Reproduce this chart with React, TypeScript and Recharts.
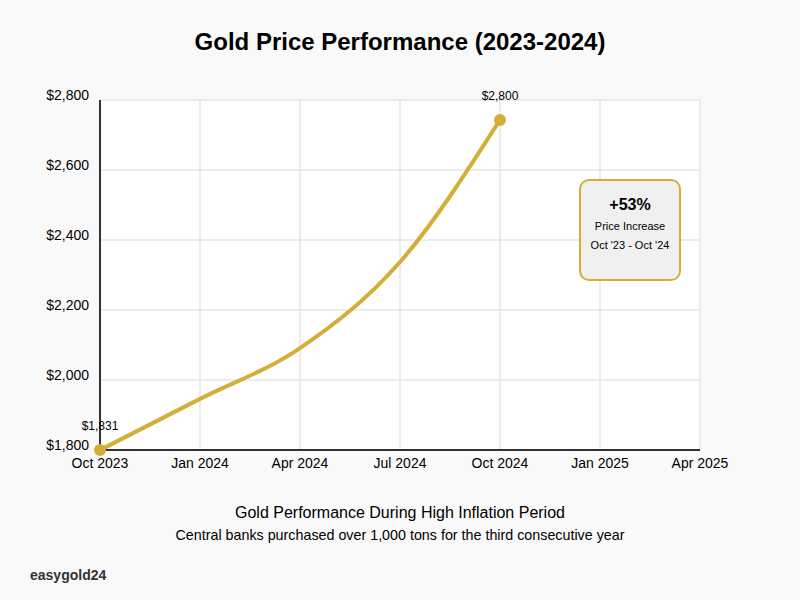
import React from "react";
import { LineChart, Line, XAxis, YAxis, CartesianGrid, LabelList } from "recharts";

const monthIndex = [0, 3, 6, 9, 12];
const prices = [1800, 1946, 2091, 2337, 2743];
const pointLabels = ["$1,831", "", "", "", "$2,800"];
const xTicks = [0, 3, 6, 9, 12, 15, 18];
const xTickLabels = ["Oct 2023", "Jan 2024", "Apr 2024", "Jul 2024", "Oct 2024", "Jan 2025", "Apr 2025"];
const yTicks = [1800, 2000, 2200, 2400, 2600, 2800];

const data = monthIndex.map((m, i) => ({ m, price: prices[i], label: pointLabels[i] }));

const FONT = "'Liberation Sans', Arial, sans-serif";
const GOLD = "#D4AF37";

const YTick = (props: any) => {
  const { x, y, payload } = props;
  return (
    <text x={x - 3} y={y} dy={-5} textAnchor="end" dominantBaseline="central" fontSize={14} fill="#000" fontFamily={FONT}>
      {"$" + Number(payload.value).toLocaleString("en-US")}
    </text>
  );
};

const EndDot = (props: any) => {
  const { cx, cy, index } = props;
  if (index !== 0 && index !== data.length - 1) return <g key={index} />;
  return <circle key={index} cx={cx} cy={cy} r={6} fill={GOLD} stroke="none" />;
};

const PointLabel = (props: any) => {
  const { x, y, value } = props;
  if (!value) return null;
  return (
    <text x={x} y={y - 24} textAnchor="middle" dominantBaseline="central" fontSize={12} fill="#000" fontFamily={FONT}>
      {value}
    </text>
  );
};

export default function App() {
  return (
    <div style={{ position: "fixed", left: 0, top: 0, width: 800, height: 600, background: "#f9f9f9", fontFamily: FONT }}>
      <div style={{ position: "absolute", left: 0, top: 28, width: 800, textAlign: "center", fontSize: 24, fontWeight: "bold", color: "#000" }}>
        Gold Price Performance (2023-2024)
      </div>
      <div style={{ position: "absolute", left: 0, top: 0 }}>
        <LineChart width={800} height={600} data={data} margin={{ top: 100, right: 100, bottom: 120, left: 40 }}>
          <CartesianGrid stroke="#e6e6e6" strokeWidth={1.5} fill="#ffffff" />
          <XAxis
            dataKey="m"
            type="number"
            domain={[0, 18]}
            ticks={xTicks}
            tickFormatter={(v: number) => xTickLabels[xTicks.indexOf(v)]}
            tickLine={false}
            axisLine={{ stroke: "#333", strokeWidth: 2 }}
            tick={{ fontSize: 14, fill: "#000", fontFamily: FONT }}
            height={30}
            interval={0}
          />
          <YAxis
            domain={[1800, 2800]}
            ticks={yTicks}
            tickLine={false}
            axisLine={{ stroke: "#333", strokeWidth: 2 }}
            tick={<YTick />}
            width={60}
            interval={0}
          />
          <Line
            type="monotone"
            dataKey="price"
            stroke={GOLD}
            strokeWidth={4}
            dot={<EndDot />}
            activeDot={false}
            isAnimationActive={false}
          >
            <LabelList dataKey="label" content={<PointLabel />} />
          </Line>
        </LineChart>
      </div>
      <div style={{ position: "absolute", left: 579, top: 179, width: 98, height: 98, border: `2px solid ${GOLD}`, borderRadius: 10, background: "#f0f0f0", textAlign: "center", color: "#000" }}>
        <div style={{ fontSize: 16, fontWeight: "bold", marginTop: 15 }}>+53%</div>
        <div style={{ fontSize: 11, marginTop: 6 }}>Price Increase</div>
        <div style={{ fontSize: 11, marginTop: 7 }}>Oct '23 - Oct '24</div>
      </div>
      <div style={{ position: "absolute", left: 0, top: 504, width: 800, textAlign: "center", fontSize: 16, color: "#000" }}>
        Gold Performance During High Inflation Period
      </div>
      <div style={{ position: "absolute", left: 0, top: 527, width: 800, textAlign: "center", fontSize: 14.3, color: "#000" }}>
        Central banks purchased over 1,000 tons for the third consecutive year
      </div>
      <div style={{ position: "absolute", left: 30, top: 567, fontSize: 14, fontWeight: "bold", color: "#333" }}>
        easygold24
      </div>
    </div>
  );
}
